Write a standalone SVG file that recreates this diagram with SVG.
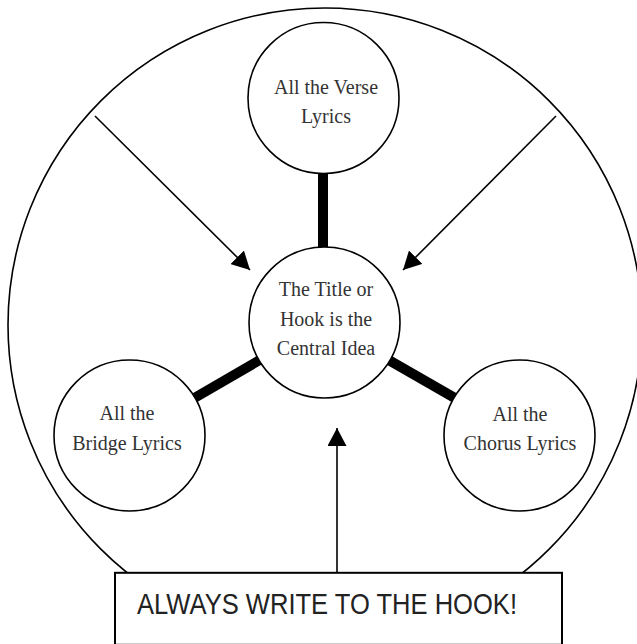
<svg xmlns="http://www.w3.org/2000/svg" width="637" height="644" viewBox="0 0 637 644">
<defs>
<marker id="ah" markerWidth="18" markerHeight="19" refX="18" refY="9.5" orient="auto" markerUnits="userSpaceOnUse">
<path d="M0,0 L18,9.5 L0,19 Z" fill="#000"/>
</marker>
<style>
.ring{fill:#fff;stroke:#000;stroke-width:1.6}
.lbl{font-family:"Liberation Serif","Times New Roman",serif;font-size:20px;fill:#333;text-anchor:middle}
.thick{stroke:#000;stroke-width:10;fill:none}
.arrow{stroke:#000;stroke-width:1.6;fill:none;marker-end:url(#ah)}
.note{font-family:"Liberation Sans",Arial,sans-serif;font-size:29px;fill:#222;text-anchor:middle}
</style>
</defs>
<rect width="637" height="644" fill="#fff"/>
<circle id="outer" cx="325" cy="325" r="317" fill="none" stroke="#000" stroke-width="1.6"/>
<g id="connectors">
<line class="thick" x1="323" y1="172" x2="323" y2="248"/>
<line class="thick" x1="259.2" y1="360.3" x2="194.8" y2="397.7"/>
<line class="thick" x1="389.3" y1="360.3" x2="454.2" y2="397.7"/>
<line class="arrow" x1="95" y1="116" x2="250" y2="270"/>
<line class="arrow" x1="556" y1="116" x2="403" y2="270"/>
<line class="arrow" x1="337" y1="572" x2="337" y2="428"/>
</g>
<g id="verse">
<circle class="ring" cx="323.5" cy="98" r="75.5"/>
<text class="lbl" x="326" y="94">All the Verse</text>
<text class="lbl" x="326" y="123">Lyrics</text>
</g>
<g id="center">
<circle class="ring" cx="324.5" cy="322.5" r="75.5"/>
<text class="lbl" x="326" y="296">The Title or</text>
<text class="lbl" x="326" y="326">Hook is the</text>
<text class="lbl" x="326" y="355">Central Idea</text>
</g>
<g id="bridge">
<circle class="ring" cx="129.5" cy="435.5" r="75.5"/>
<text class="lbl" x="127" y="420">All the</text>
<text class="lbl" x="127" y="450">Bridge Lyrics</text>
</g>
<g id="chorus">
<circle class="ring" cx="519.5" cy="435.5" r="75.5"/>
<text class="lbl" x="520" y="421">All the</text>
<text class="lbl" x="520" y="450">Chorus Lyrics</text>
</g>
<g id="note">
<rect x="115" y="572.8" width="447" height="72" fill="#fff" stroke="#000" stroke-width="2"/>
<text class="note" x="327" y="614" textLength="380" lengthAdjust="spacingAndGlyphs">ALWAYS WRITE TO THE HOOK!</text>
</g>
</svg>
